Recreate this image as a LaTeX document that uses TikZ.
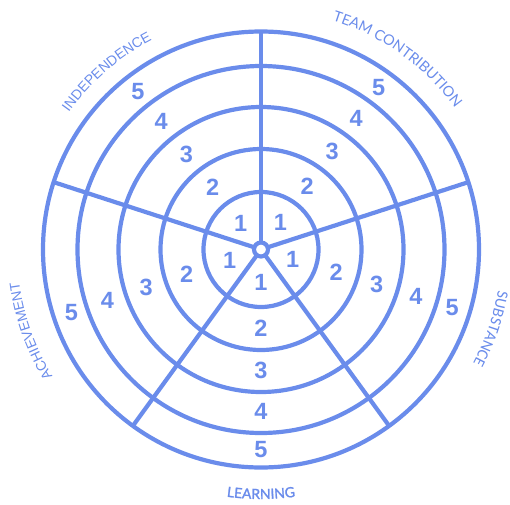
\documentclass[tikz,border=0pt]{standalone}
\usepackage{fontspec}
\setmainfont{Lato}
\newfontfamily\arialf{Liberation Sans}
\newfontfamily\carlf{Carlito}
\newfontfamily\latofb{Lato}[AutoFakeBold=1.6]
\usetikzlibrary{decorations.text}
\definecolor{wheelblue}{RGB}{106,140,235}
\begin{document}
\begin{tikzpicture}[x=1pt,y=1pt,
  ringline/.style={draw=wheelblue, line width=4.2pt},
  ringnode/.style={circle, draw=wheelblue, line width=4.2pt, inner sep=0pt, outer sep=0pt},
  num/.style={text=wheelblue, font=\arialf\fontsize{23.5}{23.5}\selectfont\bfseries, inner sep=0pt}]
\useasboundingbox (-261,-254.5) rectangle (249,249.5);
\coordinate (c) at (0,0);
% rings
\foreach \r [count=\i] in {57.5,100.5,142.5,183.5,218}
  \node[ringnode, minimum size=2*\r] (ring\i) at (c) {};
\node[ringnode, minimum size=14] (hub) at (c) {};
% spokes
\foreach \a in {90,18,-54,-126,162}
  \draw[ringline] (hub.\a) -- (ring5.\a);
% numbers
\foreach \s/\a in {tc/54, ind/128, ach/198.5, lrn/270, sub/-17}
  \foreach \r [count=\k] in {33,78.5,121,162,200}
    \node[num] (\s\k) at (\a:\r) {\k};
% labels
\path[decorate, decoration={text along path, text align=center,
  text={|\fontsize{14.5}{14.5}\selectfont\color{wheelblue}|TEAM CONTRIBUTION}}]
  (84.4:240) arc[start angle=84.4, end angle=24.4, radius=240];
\path[decorate, decoration={text along path, text align=center,
  text={|\arialf\fontsize{14}{14}\selectfont\color{wheelblue}|INDEPENDENCE}}]
  (161:236) arc[start angle=161, end angle=101, radius=236];
\path[decorate, decoration={text along path, text align=center,
  text={|\arialf\fontsize{14}{14}\selectfont\color{wheelblue}|ACHIEVEMENT}}]
  (229.5:244) arc[start angle=229.5, end angle=169.5, radius=244];
\path[decorate, decoration={text along path, text align=center,
  text={|\carlf\fontsize{16}{16}\selectfont\color{wheelblue}|SUBSTANCE}}]
  (11:240.5) arc[start angle=11, end angle=-49, radius=240.5];
\path[decorate, decoration={text along path, text align=center,
  text={|\latofb\fontsize{14}{14}\selectfont\bfseries\color{wheelblue}|LEARNING}}]
  (240:249.5) arc[start angle=240, end angle=300, radius=249.5];
\end{tikzpicture}
\end{document}
